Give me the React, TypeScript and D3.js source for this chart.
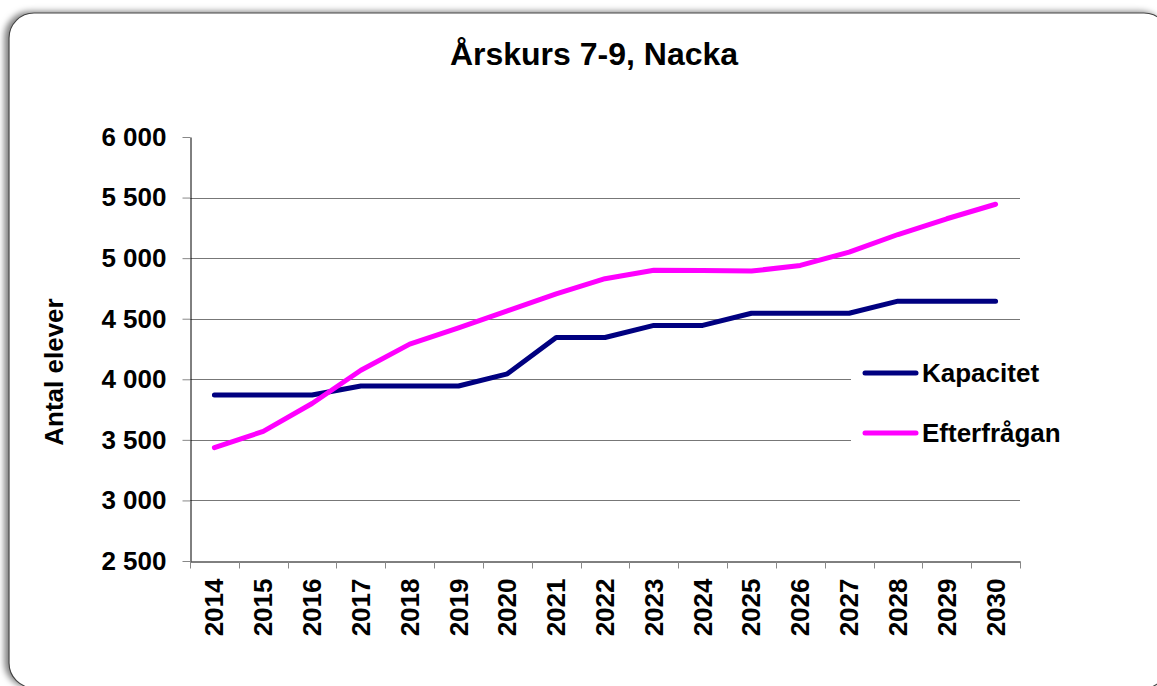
import React, { useEffect, useRef } from 'react';
import * as d3 from 'd3';

// data
const years = ['2014', '2015', '2016', '2017', '2018', '2019', '2020', '2021', '2022',
  '2023', '2024', '2025', '2026', '2027', '2028', '2029', '2030'];
const kapacitet = [3870, 3870, 3870, 3945, 3945, 3945, 4045, 4345, 4345,
  4445, 4445, 4545, 4545, 4545, 4645, 4645, 4645];
const efterfragan = [3435, 3570, 3800, 4075, 4290, 4425, 4565, 4705, 4830,
  4900, 4897, 4893, 4940, 5050, 5195, 5325, 5445];
const yTicks = [2500, 3000, 3500, 4000, 4500, 5000, 5500, 6000];
const seriesNames = ['Kapacitet', 'Efterfrågan'];
const seriesColors = ['#000080', '#FF00FF'];

const W = 1157;
const H = 686;
const FONT = '"Liberation Sans", Arial, sans-serif';

export default function App() {
  const ref = useRef<SVGSVGElement>(null);

  useEffect(() => {
    const svg = d3.select(ref.current);
    svg.selectAll('*').remove();

    const margin = { top: 137, right: 137, bottom: 125, left: 190 };
    const x = d3.scaleBand().domain(years).range([margin.left, W - margin.right]);
    const y = d3.scaleLinear().domain([2500, 6000]).range([H - margin.bottom, margin.top]);
    const fmt = d3.formatLocale({ decimal: ',', thousands: ' ', grouping: [3], currency: ['', ''] }).format(',');

    // frame with shadow
    const defs = svg.append('defs');
    const f = defs.append('filter').attr('id', 'shadow')
      .attr('x', '-5%').attr('y', '-5%').attr('width', '110%').attr('height', '110%');
    f.append('feDropShadow').attr('dx', -4).attr('dy', -1).attr('stdDeviation', 3)
      .attr('flood-color', '#000').attr('flood-opacity', 0.5);

    svg.append('rect')
      .attr('x', 9).attr('y', 13).attr('width', 1160).attr('height', 675)
      .attr('rx', 25).attr('ry', 25)
      .attr('fill', '#fff').attr('stroke', '#444').attr('stroke-width', 1.2)
      .attr('filter', 'url(#shadow)');

    // title
    svg.append('text')
      .attr('x', 594).attr('y', 65)
      .attr('text-anchor', 'middle')
      .attr('font-family', FONT).attr('font-weight', 'bold').attr('font-size', 32)
      .text('Årskurs 7-9, Nacka');

    // grid lines (none on the bottom and top ticks)
    svg.append('g')
      .selectAll('line')
      .data(yTicks.filter(d => d > 2500 && d < 6000))
      .enter().append('line')
      .attr('x1', margin.left).attr('x2', W - margin.right)
      .attr('y1', d => Math.round(y(d)) + 0.5).attr('y2', d => Math.round(y(d)) + 0.5)
      .attr('stroke', '#777').attr('stroke-width', 1);

    // y axis
    const yAxis = svg.append('g')
      .attr('transform', 'translate(' + (margin.left + 0.5) + ',0)')
      .call(d3.axisLeft(y).tickValues(yTicks).tickFormat(d => fmt(d as number)).tickSize(8).tickPadding(16).tickSizeOuter(0));
    yAxis.select('.domain').attr('stroke', '#000');
    yAxis.selectAll('.tick line').attr('stroke', '#888');
    yAxis.selectAll('text')
      .attr('font-family', FONT).attr('font-weight', 'bold').attr('font-size', 26).attr('fill', '#000');

    // x axis: tick marks on category boundaries, labels rotated
    const xAxis = svg.append('g')
      .attr('transform', 'translate(0,' + (H - margin.bottom + 0.5) + ')')
      .call(d3.axisBottom(x).tickSize(0).tickSizeOuter(0).tickFormat(() => ''));
    xAxis.select('.domain').attr('stroke', '#000');
    xAxis.selectAll('.tick').remove();

    const bounds = years.map(d => x(d) as number).concat([W - margin.right]);
    xAxis.selectAll('.sep')
      .data(bounds)
      .enter().append('line')
      .attr('class', 'sep')
      .attr('x1', d => Math.round(d) + 0.5).attr('x2', d => Math.round(d) + 0.5)
      .attr('y1', 0).attr('y2', 7)
      .attr('stroke', '#888');

    xAxis.selectAll('.lbl')
      .data(years)
      .enter().append('text')
      .attr('class', 'lbl')
      .attr('transform', d => 'translate(' + ((x(d) as number) + x.bandwidth() / 2 + 9) + ',17) rotate(-90)')
      .attr('text-anchor', 'end')
      .attr('fill', '#000')
      .attr('font-family', FONT).attr('font-weight', 'bold').attr('font-size', 26)
      .text(d => d);

    // y axis title
    svg.append('text')
      .attr('transform', 'translate(63,372) rotate(-90)')
      .attr('text-anchor', 'middle')
      .attr('font-family', FONT).attr('font-weight', 'bold').attr('font-size', 26)
      .text('Antal elever');

    // legend box (white, hides grid lines behind it)
    svg.append('rect')
      .attr('x', 851).attr('y', 335).attr('width', 215).attr('height', 140)
      .attr('fill', '#fff');

    // lines
    const line = d3.line<number>()
      .x((d, i) => (x(years[i]) as number) + x.bandwidth() / 2)
      .y(d => y(d));

    [kapacitet, efterfragan].forEach((vals, i) => {
      svg.append('path')
        .attr('d', line(vals))
        .attr('fill', 'none')
        .attr('stroke', seriesColors[i])
        .attr('stroke-width', 5)
        .attr('stroke-linecap', 'round')
        .attr('stroke-linejoin', 'round');
    });

    // legend
    const leg = svg.append('g');
    seriesNames.forEach((name, i) => {
      const ly = 373 + i * 60;
      leg.append('line')
        .attr('x1', 865).attr('x2', 916).attr('y1', ly).attr('y2', ly)
        .attr('stroke', seriesColors[i]).attr('stroke-width', 5).attr('stroke-linecap', 'round');
      leg.append('text')
        .attr('x', 922).attr('y', ly + 9)
        .attr('font-family', FONT).attr('font-weight', 'bold').attr('font-size', 26)
        .text(name);
    });
  }, []);

  return (
    <svg ref={ref} width={W} height={H}
      style={{ position: 'absolute', left: 0, top: 0, background: '#fff' }} />
  );
}
